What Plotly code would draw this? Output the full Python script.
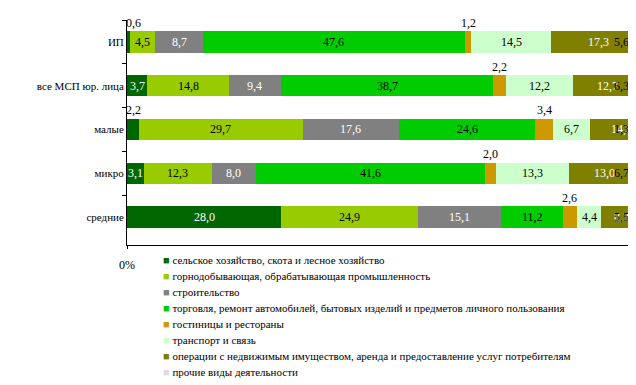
import plotly.graph_objects as go

categories = ["ИП", "все МСП юр. лица", "малые", "микро", "средние"]

series_names = [
    "сельское хозяйство, скота и лесное хозяйство",
    "горнодобывающая, обрабатывающая промышленность",
    "строительство",
    "торговля, ремонт автомобилей, бытовых изделий и предметов личного пользования",
    "гостиницы и рестораны",
    "транспорт и связь",
    "операции с недвижимым имуществом, аренда и предоставление услуг потребителям",
    "прочие виды деятельности",
]

agri = [0.6, 3.7, 2.2, 3.1, 28.0]
mining = [4.5, 14.8, 29.7, 12.3, 24.9]
construction = [8.7, 9.4, 17.6, 8.0, 15.1]
trade = [47.6, 38.7, 24.6, 41.6, 11.2]
hotels = [1.2, 2.2, 3.4, 2.0, 2.6]
transport = [14.5, 12.2, 6.7, 13.3, 4.4]
realestate = [17.3, 12.7, 14.5, 13.0, 8.3]
other = [5.6, 6.3, 1.3, 6.7, 5.5]

series_values = [agri, mining, construction, trade, hotels, transport, realestate, other]

colors = ["#006600", "#99CC00", "#808080", "#00CC00", "#CC9900", "#CCFFCC", "#808000", "#DDDDDD"]
label_colors = ["white", "black", "white", "black", "black", "black", "white", "black"]

FONT = "Liberation Serif"
X_MAX = 92.5          # visible part of the 100% axis (chart is cropped on the right)
LABEL_MAX = 89.9      # labels are kept inside the visible area
LABEL_MIN = 1.2
HOTEL_IDX = 4

fig = go.Figure()
for name, vals, col in zip(series_names, series_values, colors):
    fig.add_trace(go.Bar(
        y=categories, x=vals, name=name, orientation="h",
        marker=dict(color=col, line=dict(width=0)),
        hoverinfo="x+name", showlegend=False,
    ))

# data labels
annotations = []
cum = [0.0] * len(categories)
for i, vals in enumerate(series_values):
    for j, v in enumerate(vals):
        center = cum[j] + v / 2
        cum[j] += v
        txt = f"{v:.1f}".replace(".", ",")
        if center > LABEL_MAX:
            x, yshift = LABEL_MAX, 0
        elif v < 3.0 or i == HOTEL_IDX:
            x, yshift = max(center, LABEL_MIN), 19
        else:
            x, yshift = center, 0
        color = label_colors[i] if yshift == 0 else "black"
        annotations.append(dict(
            x=x, y=categories[j], xref="x", yref="y", text=txt, showarrow=False,
            yshift=yshift, xanchor="center", yanchor="middle",
            font=dict(family=FONT, size=12, color=color),
        ))

# legend (below the plot)
for k, (name, col) in enumerate(zip(series_names, colors)):
    annotations.append(dict(
        x=0, y=0, xref="paper", yref="paper", xshift=34, yshift=-15 - k * 16,
        xanchor="left", yanchor="middle", showarrow=False, align="left",
        text=f"<span style='color:{col}'>■</span> {name}",
        font=dict(family=FONT, size=11, color="black"),
    ))

# the page body has an 8px margin, so the figure is sized to fit the window
fig.update_layout(
    barmode="stack",
    bargap=0.51,
    width=628, height=377,
    margin=dict(l=119, r=0, t=12, b=140),
    paper_bgcolor="white", plot_bgcolor="white",
    font=dict(family=FONT, size=12, color="black"),
    annotations=annotations,
    showlegend=False,
)
fig.update_xaxes(
    range=[0, X_MAX], showgrid=False, zeroline=False,
    showline=True, linecolor="black", linewidth=1,
    tickvals=[0], ticktext=["0%"], ticks="outside", ticklen=3, tickcolor="black",
    ticklabelstandoff=6, tickfont=dict(family=FONT, size=12),
)
fig.update_yaxes(
    autorange="reversed", showgrid=False, zeroline=False,
    showline=True, linecolor="black", linewidth=1, automargin=False,
    ticks="outside", ticklen=4, tickcolor="black", tickson="boundaries",
    tickfont=dict(family=FONT, size=11),
)

fig.write_html("out.html")
